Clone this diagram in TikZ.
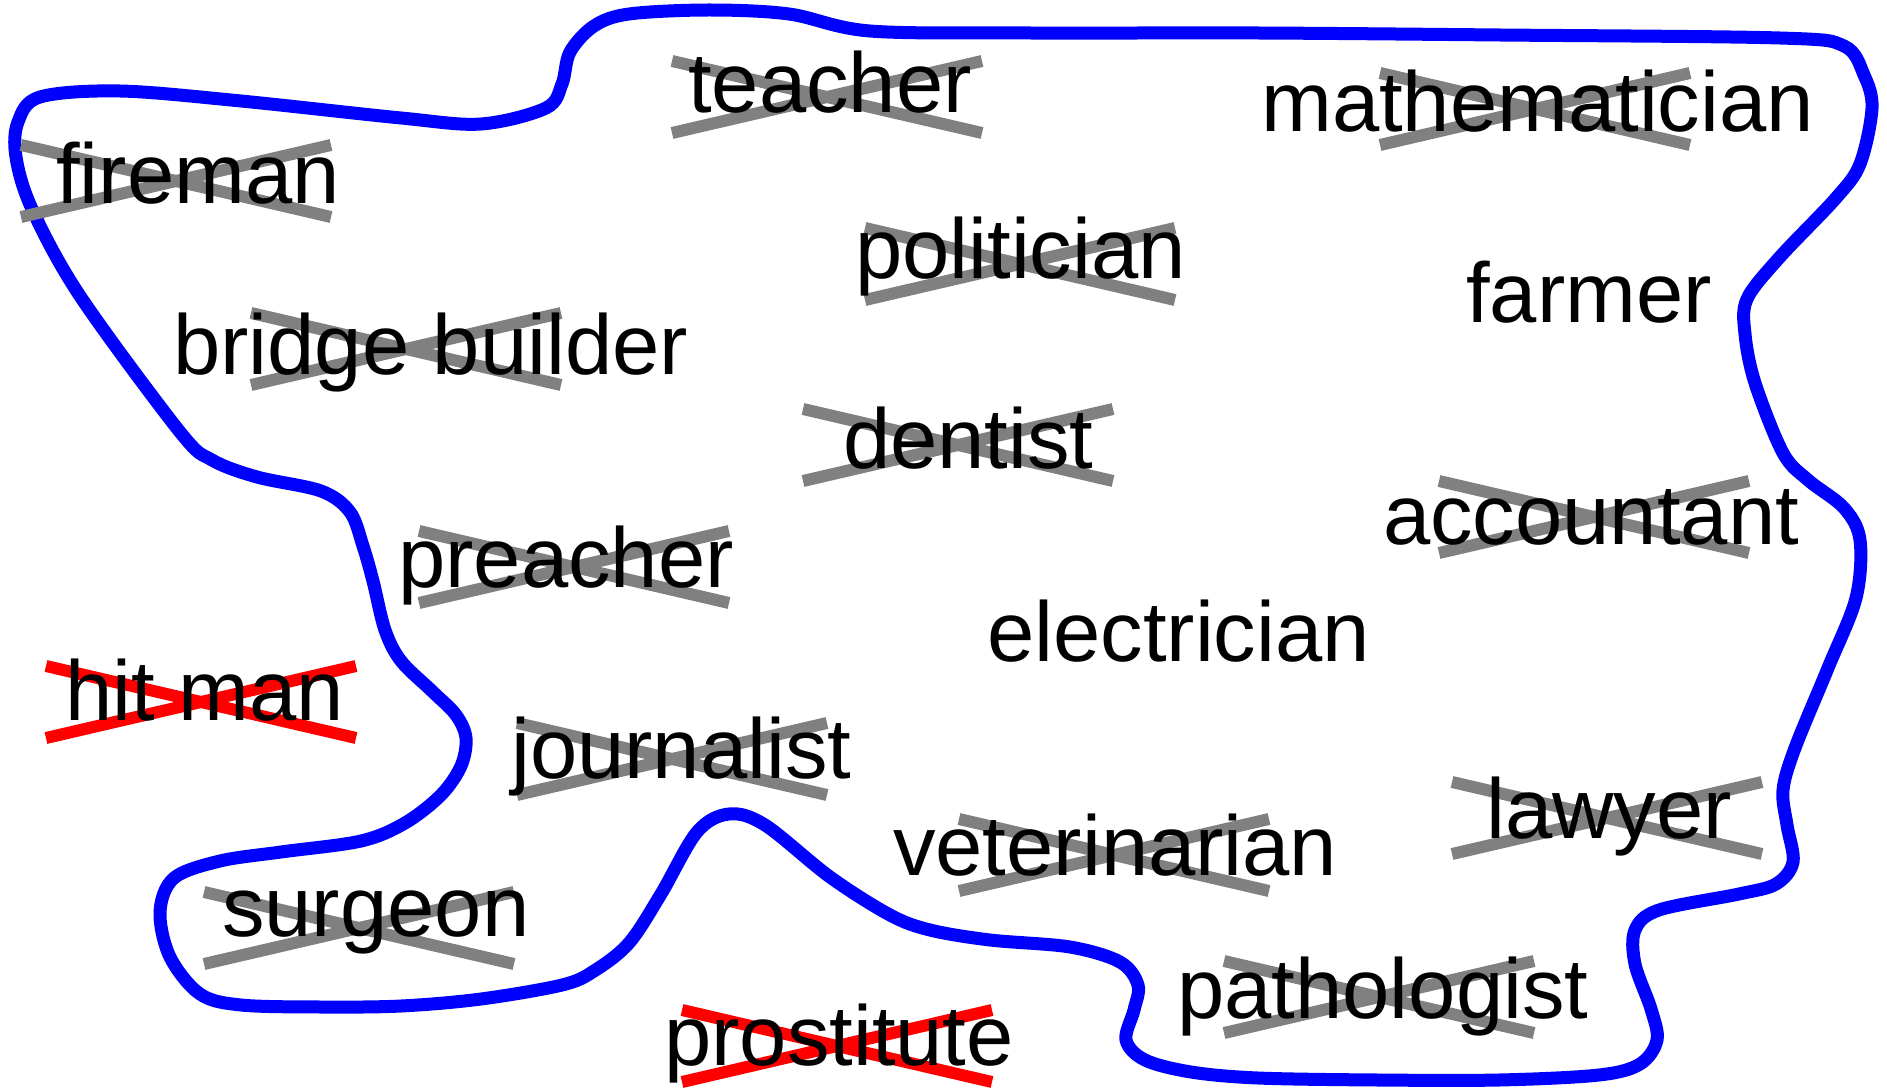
\documentclass[tikz,border=0pt]{standalone}
\usepackage{fontspec}
\setmainfont{Liberation Sans}
\begin{document}
\begin{tikzpicture}[x=1pt,y=-1pt,
  word/.style={anchor=base west,inner sep=0pt,font=\fontsize{85}{100}\selectfont},
  strike/.style={draw=gray,line width=12pt},
  badstrike/.style={draw=red,line width=12pt},
  blob/.style={draw=blue,line width=13pt}]
\useasboundingbox (0,0) rectangle (1887,1091);
% blob
\draw[blob] plot[smooth cycle,tension=0.55] coordinates {
 (18,122) (40,97) (120,91) (241,101) (401,118) (481,124) (546,108) (562,84) (570,52) (594,26) (629,14)
 (709,10) (789,14) (870,31) (1030,33) (1258,33) (1500,35) (1780,38) (1844,46) (1864,75) (1872,108) (1860,164) (1836,198)
 (1779,258) (1747,299) (1745,334) (1755,383) (1783,453) (1808,480) (1844,508) (1860,540)
 (1856,598) (1828,668) (1795,748) (1783,790) (1787,825) (1793,862) (1776,884) (1739,894) (1659,910) (1635,930) (1635,964)
 (1651,1009) (1657,1040) (1640,1064) (1599,1075) (1499,1080) (1378,1080) (1258,1078) (1191,1072) (1145,1060) (1126,1040) (1134,1010) (1138,985)
 (1120,962) (1070,947) (990,940) (930,930) (890,915) (830,877) (765,825) (729,814) (697,832) (661,894) (629,943)
 (594,971) (562,985) (481,999) (401,1006) (321,1007) (241,1005) (200,994) (170,957) (160,912) (174,878)
 (220,861) (281,852) (361,841) (405,823) (441,795) (461,766) (466,738) (456,715) (433,692) (401,661) (385,630) (373,581) (363,546)
 (350,512) (321,491) (257,477) (212,460) (180,432) (80,296) (32,209) (16,157)};
% cross centres
\coordinate (xfireman) at (176,181);
\coordinate (xteacher) at (827,97);
\coordinate (xmath) at (1535,109);
\coordinate (xpolitician) at (1020,264);
\coordinate (xbridge) at (406,349);
\coordinate (xdentist) at (958,445);
\coordinate (xaccountant) at (1594,517);
\coordinate (xpreacher) at (574,567);
\coordinate (xhitman) at (201,702);
\coordinate (xjournalist) at (672,759);
\coordinate (xlawyer) at (1607,818);
\coordinate (xvet) at (1114,855);
\coordinate (xsurgeon) at (359,928);
\coordinate (xpathologist) at (1379,997);
\coordinate (xprostitute) at (837,1046);
% crosses
\foreach \c in {xfireman,xteacher,xmath,xpolitician,xbridge,xdentist,xaccountant,xpreacher,xjournalist,xlawyer,xvet,xsurgeon,xpathologist}
  \draw[strike] (\c) ++(-155,-36) -- ++(310,72) (\c) ++(-155,36) -- ++(310,-72);
\foreach \c in {xhitman,xprostitute}
  \draw[badstrike] (\c) ++(-155,-36) -- ++(310,72) (\c) ++(-155,36) -- ++(310,-72);
% words
\node[word] (fireman) at (56,204) {fireman};
\node[word] (teacher) at (688,113) {teacher};
\node[word] (mathematician) at (1261,132) {mathematician};
\node[word] (politician) at (855,279) {politician};
\node[word] (farmer) at (1466,322) {farmer};
\node[word] (bridge) at (173,374) {bridge builder};
\node[word] (dentist) at (843,468) {dentist};
\node[word] (accountant) at (1383,544) {accountant};
\node[word] (preacher) at (398,587) {preacher};
\node[word] (electrician) at (987,661) {electrician};
\node[word] (hitman) at (65,720) {hit man};
\node[word] (journalist) at (511,778) {journalist};
\node[word] (lawyer) at (1486,838) {lawyer};
\node[word] (veterinarian) at (893,875) {veterinarian};
\node[word] (surgeon) at (222,936) {surgeon};
\node[word] (pathologist) at (1177,1018) {pathologist};
\node[word] (prostitute) at (664,1065) {prostitute};
\end{tikzpicture}
\end{document}
